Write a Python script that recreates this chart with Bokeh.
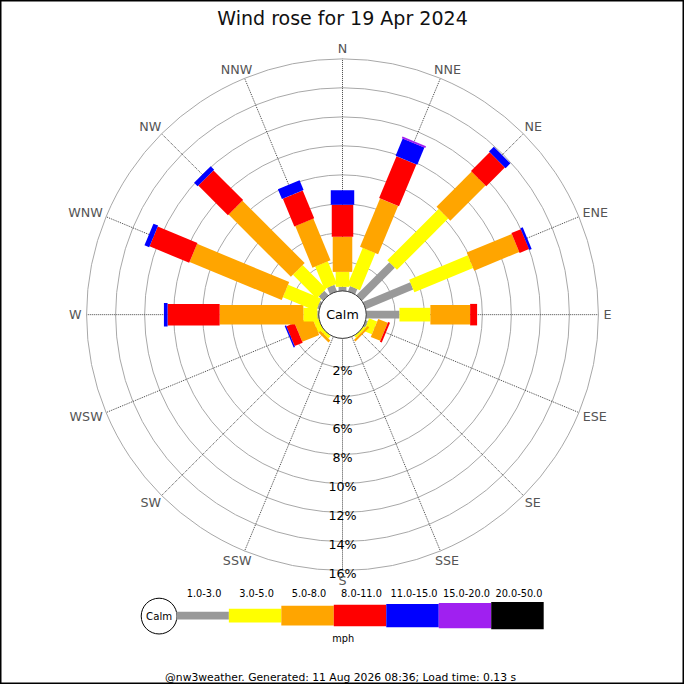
import math
from bokeh.plotting import figure
from bokeh.models import Range1d, ColumnDataSource
from bokeh.core.properties import value
from bokeh.embed import file_html
from bokeh.resources import INLINE

# ---------------- data ----------------
directions = ["N", "NNE", "NE", "ENE", "E", "ESE", "SE", "SSE",
              "S", "SSW", "SW", "WSW", "W", "WNW", "NW", "NNW"]
speed_bands = ["1.0-3.0", "3.0-5.0", "5.0-8.0", "8.0-11.0",
               "11.0-15.0", "15.0-20.0", "20.0-50.0"]
band_colors = ["#999999", "#ffff00", "#ffa500", "#ff0000",
               "#0000ff", "#a020f0", "#000000"]

# percentage of time per direction, per speed band (mph)
pct_1_3 = [0.28, 0.38, 3.20, 3.53, 2.29, 0.15, 0.00, 0.00,
           0.00, 0.00, 0.00, 0.00, 0.10, 0.15, 0.42, 0.48]
pct_3_5 = [1.03, 2.77, 5.00, 4.38, 2.13, 0.60, 0.15, 0.00,
           0.00, 0.00, 0.22, 0.38, 0.96, 2.47, 2.30, 1.67]
pct_5_8 = [2.43, 3.60, 3.43, 3.36, 2.74, 0.71, 0.15, 0.00,
           0.00, 0.00, 0.18, 1.26, 5.77, 6.87, 6.07, 3.10]
pct_8_11 = [2.20, 3.13, 1.82, 0.70, 0.48, 0.14, 0.00, 0.00,
            0.00, 0.00, 0.00, 0.60, 3.59, 2.96, 2.89, 2.07]
pct_11_15 = [0.99, 1.28, 0.47, 0.17, 0.00, 0.00, 0.00, 0.00,
             0.00, 0.00, 0.00, 0.10, 0.25, 0.35, 0.34, 0.73]
pct_15_20 = [0.00, 0.13, 0.00, 0.00, 0.00, 0.00, 0.00, 0.00,
             0.00, 0.00, 0.00, 0.00, 0.00, 0.00, 0.00, 0.00]
pct_20_50 = [0.00] * 16

ring_pcts = [2, 4, 6, 8, 10, 12, 14, 16]
ring_labels = ["2%", "4%", "6%", "8%", "10%", "12%", "14%", "16%"]

title_text = "Wind rose for 19 Apr 2024"
calm_text = "Calm"
units_text = "mph"
footer_text = "@nw3weather. Generated: 11 Aug 2026 08:36; Load time: 0.13 s"

# ---------------- layout / style ----------------
W = 684
S = W / 700.0            # screen px per layout unit
FONT = value("DejaVu Sans")


def fs(px):
    return value(f"{px * S:.2f}px")


CX, CY = 350.0, 700 - 321.5   # rose centre (layout units, y up)
R0 = 24.3                     # calm circle radius
K = 14.85                     # units per percent
RMAX = R0 + ring_pcts[-1] * K
LABEL_R = 267.0
LABEL_PX = 13
CHAR_W = {"N": 0.748, "E": 0.632, "S": 0.635, "W": 0.989}
BAND_W = [8, 14, 20, 22, 24, 26, 28]

p = figure(width=W, height=W, x_range=Range1d(0, 700), y_range=Range1d(0, 700),
           output_backend="svg", toolbar_location=None, min_border=0,
           x_axis_location=None, y_axis_location=None)
p.grid.visible = False
p.outline_line_color = "black"
p.outline_line_width = 2
p.background_fill_color = "white"
p.border_fill_color = "white"

# rings
p.circle(x=[CX] * len(ring_pcts), y=[CY] * len(ring_pcts),
         radius=[R0 + v * K for v in ring_pcts],
         fill_color=None, line_color="#a8a8a8", line_width=1)

# spokes
angs = [math.radians(i * 22.5) for i in range(len(directions))]
p.segment(x0=[CX + R0 * math.sin(a) for a in angs], y0=[CY + R0 * math.cos(a) for a in angs],
          x1=[CX + RMAX * math.sin(a) for a in angs], y1=[CY + RMAX * math.cos(a) for a in angs],
          line_color="#444444", line_width=1, line_dash="1 1")

# bars
bands = [pct_1_3, pct_3_5, pct_5_8, pct_8_11, pct_11_15, pct_15_20, pct_20_50]
bx, by, bl, bh, ba, bc = [], [], [], [], [], []
for i, a in enumerate(angs):
    cum = 0.0
    for j, band in enumerate(bands):
        v = band[i]
        if v <= 0:
            continue
        r_in = R0 + cum * K
        cum += v
        r_out = R0 + cum * K
        rm = (r_in + r_out) / 2
        bx.append(CX + rm * math.sin(a))
        by.append(CY + rm * math.cos(a))
        bl.append(r_out - r_in)
        bh.append(BAND_W[j])
        ba.append(math.pi / 2 - a)
        bc.append(band_colors[j])
src = ColumnDataSource(dict(x=bx, y=by, w=bl, h=bh, a=ba, c=bc))
p.rect(x="x", y="y", width="w", height="h", angle="a", fill_color="c",
       line_color=None, source=src)

# calm circle
p.circle(x=[CX], y=[CY], radius=[R0], fill_color="white", line_color="#333333", line_width=1)
p.text(x=[CX], y=[CY], text=[calm_text], text_font=FONT, text_font_size=fs(13),
       text_color="black", text_align="center", text_baseline="middle")

# ring percentage labels
p.text(x=[CX] * len(ring_pcts), y=[CY - (R0 + v * K) - 3 for v in ring_pcts],
       text=ring_labels, text_font=FONT, text_font_size=fs(13),
       text_color="black", text_align="center", text_baseline="middle")

# direction labels (centre pushed outward by half the text box)
dlx, dly = [], []
for d, a in zip(directions, angs):
    tw = sum(CHAR_W[c] for c in d) * LABEL_PX
    dlx.append(CX + LABEL_R * math.sin(a) + math.sin(a) * tw / 2)
    dly.append(CY + LABEL_R * math.cos(a) + math.cos(a) * 5)
p.text(x=dlx, y=dly, text=directions, text_font=FONT, text_font_size=fs(LABEL_PX),
       text_color="#555555", text_align="center", text_baseline="middle")

# title
p.text(x=[350], y=[700 - 18], text=[title_text], text_font=FONT, text_font_size=fs(19.5),
       text_color="#111111", text_align="center", text_baseline="middle")

# legend
LX0, LSEG, LY = 180.0, 53.7, 700 - 629.5
p.circle(x=[162.3], y=[700 - 630], radius=[18.3], fill_color="white",
         line_color="black", line_width=1)
p.text(x=[162.3], y=[700 - 630], text=[calm_text], text_font=FONT, text_font_size=fs(10.4),
       text_color="black", text_align="center", text_baseline="middle")
lx = [LX0 + LSEG * (j + 0.5) for j in range(len(speed_bands))]
p.rect(x=lx, y=[LY] * len(lx), width=[LSEG] * len(lx), height=BAND_W,
       fill_color=band_colors, line_color=None)
p.text(x=[v + 1.5 for v in lx], y=[700 - 606.7] * len(lx), text=speed_bands,
       text_font=FONT, text_font_size=fs(10), text_color="black",
       text_align="center", text_baseline="middle")
p.text(x=[350.7], y=[700 - 653.3], text=[units_text], text_font=FONT, text_font_size=fs(10),
       text_color="black", text_align="center", text_baseline="middle")

# footer
p.text(x=[348], y=[700 - 692.5], text=[footer_text], text_font=FONT, text_font_size=fs(11),
       text_color="black", text_align="center", text_baseline="middle")

open("out.html", "w").write(file_html(p, INLINE))
